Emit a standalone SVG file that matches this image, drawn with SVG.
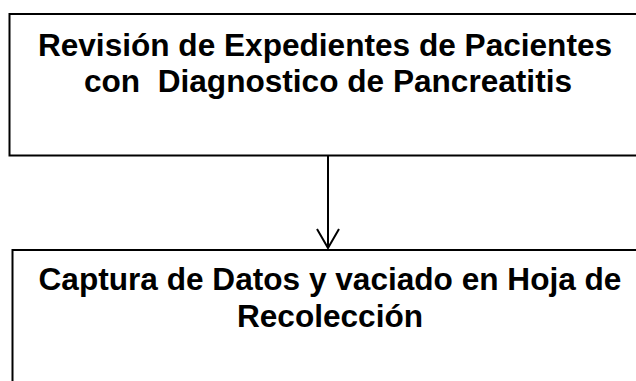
<svg xmlns="http://www.w3.org/2000/svg" width="636" height="381" viewBox="0 0 636 381">
  <style>
    .box { fill: #ffffff; stroke: #000000; stroke-width: 2; }
    .lbl { font-family: "Liberation Sans", Arial, sans-serif; font-weight: bold; font-size: 31.6px; fill: #000000; text-anchor: middle; }
    .conn { stroke: #000000; stroke-width: 2; fill: none; }
  </style>
  <rect x="0" y="0" width="636" height="381" fill="#ffffff"/>
  <g id="node-revision">
    <rect class="box" x="9.5" y="14" width="640" height="141.5"/>
    <text class="lbl" x="325" y="56">Revisión de Expedientes de Pacientes</text>
    <text class="lbl" x="328" y="92" xml:space="preserve">con  Diagnostico de Pancreatitis</text>
  </g>
  <g id="node-captura">
    <rect class="box" x="12.5" y="250" width="640" height="150"/>
    <text class="lbl" x="330" y="290">Captura de Datos y vaciado en Hoja de</text>
    <text class="lbl" x="330" y="327">Recolección</text>
  </g>
  <g id="connectors">
    <line class="conn" x1="328" y1="156" x2="328" y2="248"/>
    <polyline class="conn" points="317,229 328,248 339,229"/>
  </g>
</svg>
